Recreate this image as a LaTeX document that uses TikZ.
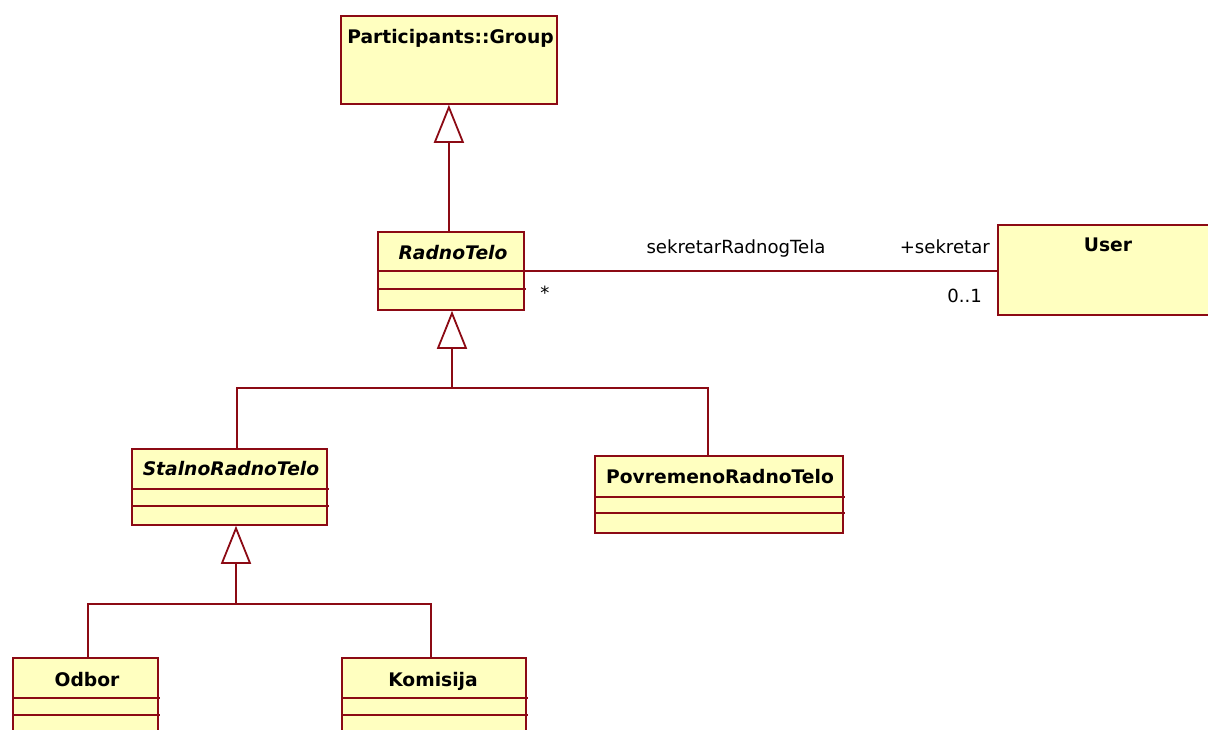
\documentclass[tikz,border=0pt]{standalone}
\usepackage{fontspec}
\setmainfont{DejaVu Sans}
\usetikzlibrary{arrows.meta}
\definecolor{umlline}{RGB}{140,10,20}
\definecolor{umlfill}{RGB}{255,255,192}
\tikzset{
  classbox/.style={draw=umlline, fill=umlfill, line width=1.8pt, inner sep=0pt, anchor=north west},
  classname/.style={anchor=base, inner sep=0pt, font=\fontsize{18.7}{22}\selectfont\bfseries},
  abstractname/.style={anchor=base, inner sep=0pt, font=\fontsize{18.7}{22}\selectfont\bfseries\itshape},
  rolelabel/.style={inner sep=0pt, font=\fontsize{18.1}{21}\selectfont},
  link/.style={draw=umlline, line width=1.8pt},
  compartment/.style={draw=umlline, line width=1.8pt},
  inherit/.style={link, -{Triangle[open, width=30pt, length=38pt]}},
}
\begin{document}
\begin{tikzpicture}[x=1pt, y=-1pt]
  \clip (0,0) rectangle (1208,729);
  \fill[white] (0,0) rectangle (1208,729);

  % class boxes
  \node[classbox, minimum width=216pt, minimum height=88pt] (group) at (340,15) {};
  \node[classbox, minimum width=146pt, minimum height=78pt] (radno) at (377,231) {};
  \node[classbox, minimum width=230pt, minimum height=90pt] (user) at (997,224) {};
  \node[classbox, minimum width=195pt, minimum height=76pt] (stalno) at (131,448) {};
  \node[classbox, minimum width=248pt, minimum height=77pt] (povr) at (594,455) {};
  \node[classbox, minimum width=145pt, minimum height=100pt] (odbor) at (12,657) {};
  \node[classbox, minimum width=184pt, minimum height=100pt] (komisija) at (341,657) {};

  % attribute / operation compartments
  \draw[compartment] (377,271) -- (526,271);
  \draw[compartment] (377,289) -- (526,289);
  \draw[compartment] (131,489) -- (329,489);
  \draw[compartment] (131,506) -- (329,506);
  \draw[compartment] (594,497) -- (845,497);
  \draw[compartment] (594,513) -- (845,513);
  \draw[compartment] (12,698) -- (160,698);
  \draw[compartment] (12,715) -- (160,715);
  \draw[compartment] (341,698) -- (528,698);
  \draw[compartment] (341,715) -- (528,715);

  % class names
  \node[classname] (groupname) at (450.5,43) {Participants::Group};
  \node[abstractname] (radnoname) at (453,259) {RadnoTelo};
  \node[classname] (username) at (1108,251) {User};
  \node[abstractname] (stalnoname) at (231,475) {StalnoRadnoTelo};
  \node[classname] (povrname) at (720,483) {PovremenoRadnoTelo};
  \node[classname] (odborname) at (87,686) {Odbor};
  \node[classname] (komisijaname) at (433,686) {Komisija};

  % generalizations
  \draw[inherit] (radno.north -| group.south) -- (group.south);

  \coordinate (j1) at (452,388);
  \draw[link] ([xshift=7.5pt]stalno.north) |- (j1);
  \draw[link] ([xshift=-11pt]povr.north) |- (j1);
  \draw[inherit] (j1) -- (j1 |- radno.south);

  \coordinate (j2) at (236,604);
  \draw[link] ([xshift=2.5pt]odbor.north) |- (j2);
  \draw[link] ([xshift=-3pt]komisija.north) |- (j2);
  \draw[inherit] (j2) -- (j2 |- stalno.south);

  % association RadnoTelo -- User
  \draw[link] (radno.east) -- (radno.east -| user.west);
  \node[rolelabel, anchor=base] (assocname) at (736,253) {sekretarRadnogTela};
  \node[rolelabel, anchor=base east] (rolename) at (990,253) {+sekretar};
  \node[rolelabel, anchor=base] (multmany) at (545,299) {*};
  \node[rolelabel, anchor=base east] (multone) at (982,302) {0..1};
\end{tikzpicture}
\end{document}
